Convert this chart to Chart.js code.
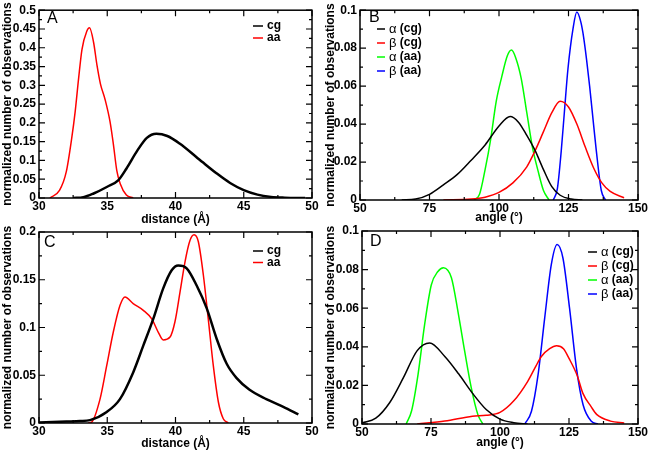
<!DOCTYPE html>
<html lang="en">
<head>
<meta charset="UTF-8">
<title>Distance and angle distributions</title>
<script src="https://cdn.jsdelivr.net/npm/chart.js"></script>
<style>
  body { margin: 0; background: #fff; }
  #wrap { position: relative; width: 652px; height: 453px; }
  #wrap canvas { position: absolute; left: 0; top: 0; }
</style>
</head>
<body>
<div id="wrap">
  <canvas id="panelA" width="652" height="453"></canvas>
  <canvas id="panelB" width="652" height="453"></canvas>
  <canvas id="panelC" width="652" height="453"></canvas>
  <canvas id="panelD" width="652" height="453"></canvas>
</div>
<script>
// panel A: distance distributions
const aCgDist = [32.5, 33.25, 34, 35, 35.8, 36.4, 37.2, 37.9, 38.6, 39.4, 40.3, 41.5, 42, 43, 44, 45, 46, 47, 48, 49.5];
const aCgObs  = [0, 0.002, 0.012, 0.03, 0.047, 0.078, 0.126, 0.16, 0.171, 0.165, 0.145, 0.11, 0.095, 0.066, 0.04, 0.021, 0.009, 0.003, 0.001, 0];
const aAaDist = [30.8, 31.5, 32, 32.4, 32.65, 32.9, 33.15, 33.5, 33.7, 34, 34.25, 34.5, 34.85, 35.2, 35.45, 35.7, 35.95, 36.4, 36.9];
const aAaObs  = [0, 0.02, 0.07, 0.16, 0.23, 0.318, 0.396, 0.444, 0.453, 0.414, 0.353, 0.304, 0.261, 0.204, 0.143, 0.073, 0.038, 0.008, 0];

// panel B: angle distributions
const bAlphaCgAng = [65, 70, 75, 80, 85, 90, 95, 100, 104, 107, 110, 113, 116, 119, 122, 126, 130];
const bAlphaCgObs = [0, 0.0005, 0.003, 0.008, 0.0135, 0.021, 0.029, 0.039, 0.044, 0.041, 0.034, 0.026, 0.016, 0.007, 0.0025, 0.0005, 0];
const bBetaCgAng  = [80, 90, 95, 100, 105, 110, 113, 116, 119, 122, 125, 128, 131, 134, 137, 140, 145];
const bBetaCgObs  = [0, 0.0005, 0.0015, 0.004, 0.009, 0.0175, 0.026, 0.036, 0.046, 0.052, 0.049, 0.04, 0.028, 0.017, 0.009, 0.0045, 0.0012];
const bAlphaAaAng = [91, 93, 95, 97, 99, 101, 103, 104.5, 106, 108, 110, 112, 114, 116, 118];
const bAlphaAaObs = [0, 0.003, 0.016, 0.032, 0.052, 0.065, 0.076, 0.079, 0.075, 0.064, 0.046, 0.028, 0.0156, 0.005, 0];
const bBetaAaAng  = [119.5, 121, 122.4, 123.5, 124.8, 126.6, 128, 129.4, 130.2, 131.5, 132.6, 134, 135, 136.8, 138.3];
const bBetaAaObs  = [0, 0.006, 0.026, 0.046, 0.069, 0.09, 0.099, 0.094, 0.088, 0.074, 0.06, 0.04, 0.026, 0.005, 0];

// panel C: distance distributions
const cCgDist = [30, 31, 32, 33, 33.74, 34.96, 35.93, 36.9, 37.64, 38.37, 39.1, 39.72, 40.2, 40.82, 41.55, 42.29, 43.02, 43.75, 44.48, 45.4, 46.65, 47.9, 49];
const cCgObs  = [0.0005, 0.001, 0.0015, 0.002, 0.003, 0.0115, 0.025, 0.053, 0.081, 0.109, 0.141, 0.16, 0.165, 0.162, 0.144, 0.12, 0.088, 0.062, 0.047, 0.035, 0.025, 0.017, 0.009];
const cAaDist = [33.6, 33.86, 34.47, 34.96, 35.44, 35.93, 36.3, 36.9, 37.64, 38.26, 38.74, 39.1, 39.6, 39.96, 40.33, 40.7, 41.06, 41.36, 41.67, 42.04, 42.4, 42.77, 43.14, 43.5, 43.87];
const cAaObs  = [0, 0.001, 0.025, 0.06, 0.095, 0.123, 0.132, 0.125, 0.118, 0.109, 0.095, 0.087, 0.09, 0.106, 0.137, 0.169, 0.191, 0.197, 0.19, 0.155, 0.109, 0.06, 0.022, 0.0045, 0];

// panel D: angle distributions
const dAlphaCgAng = [50, 55, 60, 65, 70, 74.5, 80, 85, 90, 95, 100, 105, 110];
const dAlphaCgObs = [0.0005, 0.003, 0.011, 0.024, 0.038, 0.042, 0.035, 0.026, 0.016, 0.0075, 0.0025, 0.0007, 0];
const dBetaCgAng  = [70, 80, 90, 95, 100, 105, 110, 113, 115, 118, 120.5, 123, 125, 128, 130, 133, 135, 140, 145];
const dBetaCgObs  = [0, 0.0015, 0.004, 0.0045, 0.006, 0.012, 0.022, 0.03, 0.035, 0.039, 0.0405, 0.039, 0.034, 0.025, 0.016, 0.009, 0.005, 0.0015, 0.0005];
const dAlphaAaAng = [66, 68, 70.3, 72.7, 75.1, 77.5, 79.5, 82.4, 84.8, 87.2, 89.6, 92, 93.8];
const dAlphaAaObs = [0, 0.007, 0.0256, 0.0516, 0.072, 0.079, 0.081, 0.0758, 0.058, 0.0377, 0.0187, 0.0048, 0];
const dBetaAaAng  = [109, 111.4, 113.8, 116.2, 118.6, 120.7, 122.8, 125.2, 127.7, 130.1, 133.1, 135.5];
const dBetaAaObs  = [0, 0.0066, 0.0256, 0.055, 0.0827, 0.093, 0.086, 0.06, 0.029, 0.01, 0.0014, 0];

const FONT = "'Liberation Sans', Arial, Helvetica, sans-serif";
const W = 652, H = 453;

function series(label, xs, ys, color, width) {
  return {
    label: label,
    data: xs.map((x, i) => ({x: x, y: ys[i]})),
    borderColor: color,
    borderWidth: width,
    pointRadius: 0,
    fill: false,
    cubicInterpolationMode: 'monotone'
  };
}

// frame, inward ticks, panel letter and legend (xmgrace style)
const gracePlugin = {
  id: 'grace',
  afterDatasetsDraw(chart, args, opts) {
    const ctx = chart.ctx;
    const area = chart.chartArea;
    const xs = chart.scales.x, ys = chart.scales.y;
    ctx.save();
    ctx.strokeStyle = '#000';
    ctx.lineWidth = 1.5;
    ctx.strokeRect(area.left, area.top, area.right - area.left, area.bottom - area.top);

    ctx.lineWidth = 1.2;
    const drawTicks = (scale, horizontal) => {
      const vals = scale.ticks.map(t => t.value);
      const marks = [];
      vals.forEach((v, i) => {
        marks.push([v, 6]);
        if (i < vals.length - 1) marks.push([(v + vals[i + 1]) / 2, 3]);
      });
      ctx.beginPath();
      marks.forEach(([v, len]) => {
        const p = scale.getPixelForValue(v);
        if (horizontal) {
          ctx.moveTo(p, area.bottom); ctx.lineTo(p, area.bottom - len);
          ctx.moveTo(p, area.top); ctx.lineTo(p, area.top + len);
        } else {
          ctx.moveTo(area.left, p); ctx.lineTo(area.left + len, p);
          ctx.moveTo(area.right, p); ctx.lineTo(area.right - len, p);
        }
      });
      ctx.stroke();
    };
    drawTicks(xs, true);
    drawTicks(ys, false);

    // panel letter
    ctx.fillStyle = '#000';
    ctx.font = '16px ' + FONT;
    ctx.textBaseline = 'middle';
    ctx.textAlign = 'left';
    ctx.fillText(opts.letter, opts.letterX, opts.letterY);

    // legend
    chart.data.datasets.forEach((ds, i) => {
      const y = opts.legY + i * opts.legRow;
      ctx.strokeStyle = ds.borderColor;
      ctx.lineWidth = 1.5;
      ctx.beginPath();
      ctx.moveTo(opts.legX, y);
      ctx.lineTo(opts.legX + opts.legLen, y);
      ctx.stroke();
      let tx = opts.legX + opts.legLen + 4;
      let text = ds.label;
      ctx.fillStyle = '#000';
      if (/^[\u0370-\u03ff]/.test(text)) {
        ctx.font = '13px ' + FONT;
        ctx.fillText(text[0], tx, y);
        tx += ctx.measureText(text[0]).width;
        text = text.slice(1);
      }
      ctx.font = 'bold 12px ' + FONT;
      ctx.fillText(text, tx, y);
    });
    ctx.restore();
  }
};

function makePanel(p) {
  const yLeft = p.yTitleX - 7.2;
  const xBottom = p.xTitleY + 7.2;
  new Chart(document.getElementById(p.id), {
    type: 'line',
    data: {datasets: p.datasets},
    options: {
      responsive: false,
      animation: false,
      devicePixelRatio: 1,
      layout: {padding: {left: yLeft, top: p.T, right: W - p.R, bottom: H - xBottom}},
      plugins: {
        legend: {display: false},
        tooltip: {enabled: false},
        grace: {letter: p.letter, letterX: p.letterX, letterY: p.letterY,
                legX: p.legX, legY: p.legY, legRow: p.legRow, legLen: p.legLen}
      },
      scales: {
        x: {
          type: 'linear',
          min: p.xMin, max: p.xMax,
          grid: {display: false, drawTicks: false},
          border: {display: false},
          ticks: {stepSize: p.xStep, padding: 1, color: '#000', maxRotation: 0,
                  font: {family: FONT, size: 12, weight: 'bold'}},
          title: {display: true, text: p.xTitle, color: '#000', padding: 0,
                  font: {family: FONT, size: 12, weight: 'bold'}},
          afterFit: s => { s.height = xBottom - p.B; }
        },
        y: {
          type: 'linear',
          min: 0, max: p.yMax,
          grid: {display: false, drawTicks: false},
          border: {display: false},
          ticks: {stepSize: p.yStep, padding: 3, color: '#000',
                  font: {family: FONT, size: 12, weight: 'bold'},
                  callback: v => String(Number(v.toFixed(4)))},
          title: {display: true, text: 'normalized number of observations', color: '#000', padding: 0,
                  font: {family: FONT, size: 12, weight: 'bold'}},
          afterFit: s => { s.width = p.L - yLeft; }
        }
      }
    },
    plugins: [gracePlugin]
  });
}

makePanel({
  id: 'panelA', letter: 'A', letterX: 47, letterY: 19,
  L: 39, T: 7, R: 312, B: 198, yTitleX: 7.2, xTitleY: 219.5,
  xMin: 30, xMax: 50, xStep: 5, yMax: 0.5, yStep: 0.05, xTitle: 'distance (Å)',
  legX: 253, legY: 26, legRow: 12, legLen: 10,
  datasets: [
    series('cg', aCgDist, aCgObs, '#000000', 2.5),
    series('aa', aAaDist, aAaObs, '#ff0000', 1.5)
  ]
});

makePanel({
  id: 'panelB', letter: 'B', letterX: 369, letterY: 18,
  L: 360, T: 7, R: 638, B: 200, yTitleX: 331, xTitleY: 218,
  xMin: 50, xMax: 150, xStep: 25, yMax: 0.1, yStep: 0.02, xTitle: 'angle (°)',
  legX: 377, legY: 29, legRow: 14, legLen: 8,
  datasets: [
    series('α (cg)', bAlphaCgAng, bAlphaCgObs, '#000000', 1.5),
    series('β (cg)', bBetaCgAng, bBetaCgObs, '#ff0000', 1.5),
    series('α (aa)', bAlphaAaAng, bAlphaAaObs, '#00ff00', 1.5),
    series('β (aa)', bBetaAaAng, bBetaAaObs, '#0000ff', 1.5)
  ]
});

makePanel({
  id: 'panelC', letter: 'C', letterX: 44, letterY: 243,
  L: 39, T: 232, R: 312, B: 423, yTitleX: 7.2, xTitleY: 443.5,
  xMin: 30, xMax: 50, xStep: 5, yMax: 0.2, yStep: 0.05, xTitle: 'distance (Å)',
  legX: 253, legY: 251, legRow: 11.5, legLen: 10,
  datasets: [
    series('cg', cCgDist, cCgObs, '#000000', 2.5),
    series('aa', cAaDist, cAaObs, '#ff0000', 1.5)
  ]
});

makePanel({
  id: 'panelD', letter: 'D', letterX: 370, letterY: 242,
  L: 362, T: 231, R: 638, B: 424, yTitleX: 331, xTitleY: 443,
  xMin: 50, xMax: 150, xStep: 25, yMax: 0.1, yStep: 0.02, xTitle: 'angle (°)',
  legX: 588, legY: 252, legRow: 14, legLen: 9,
  datasets: [
    series('α (cg)', dAlphaCgAng, dAlphaCgObs, '#000000', 1.5),
    series('β (cg)', dBetaCgAng, dBetaCgObs, '#ff0000', 1.5),
    series('α (aa)', dAlphaAaAng, dAlphaAaObs, '#00ff00', 1.5),
    series('β (aa)', dBetaAaAng, dBetaAaObs, '#0000ff', 1.5)
  ]
});
</script>
</body>
</html>
